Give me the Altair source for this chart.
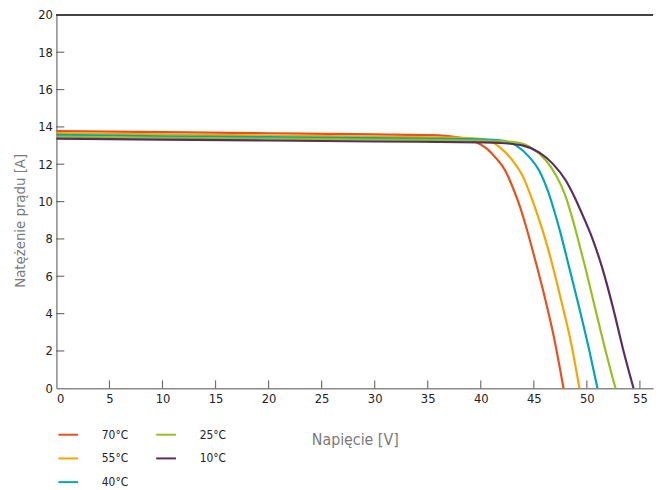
import altair as alt
import pandas as pd

# ---- data ----
series_names = ["70°C", "55°C", "40°C", "25°C", "10°C"]
series_colors = ["#e8501c", "#f7a600", "#00a6b8", "#95c11f", "#5b2c5e"]

v70 = [0, 10, 20, 30, 36, 37.5, 39.3, 40.6, 41.5, 42.3, 43.0, 43.7, 44.3, 45.2, 46.0, 46.8, 47.8]
i70 = [13.78, 13.72, 13.66, 13.6, 13.55, 13.47, 13.25, 12.82, 12.29, 11.67, 10.78, 9.72, 8.6, 6.72, 4.95, 3.0, 0]

v55 = [0, 10, 20, 30, 38, 40.25, 41.8, 43.0, 44.0, 44.75, 45.5, 46.1, 46.8, 47.7, 48.5, 49.3]
i55 = [13.67, 13.6, 13.54, 13.48, 13.42, 13.35, 12.9, 12.2, 11.31, 10.25, 9.02, 7.95, 6.5, 4.42, 2.47, 0]

v40 = [0, 10, 20, 30, 38, 41.8, 43.35, 44.6, 45.5, 46.3, 46.9, 47.5, 48.3, 49.25, 50.2, 51.0]
i40 = [13.57, 13.5, 13.45, 13.4, 13.35, 13.28, 13.0, 12.37, 11.67, 10.61, 9.55, 8.35, 6.55, 4.38, 2.1, 0]

v25 = [0, 10, 20, 30, 40, 43.35, 44.9, 46.15, 47.1, 47.9, 48.5, 49.1, 49.9, 50.8, 51.7, 52.7]
i25 = [13.48, 13.42, 13.37, 13.32, 13.27, 13.17, 12.82, 12.2, 11.4, 10.43, 9.37, 8.13, 6.36, 4.24, 2.15, 0]

v10 = [0, 10, 20, 30, 40, 41.8, 44.0, 45.5, 46.8, 48.0, 48.9, 49.7, 50.4, 51.4, 52.5, 53.4, 54.4]
i10 = [13.37, 13.32, 13.27, 13.22, 13.17, 13.14, 13.0, 12.64, 12.02, 11.14, 10.17, 9.15, 8.2, 6.54, 4.24, 2.12, 0]

x_ticks = [0, 5, 10, 15, 20, 25, 30, 35, 40, 45, 50, 55]
y_ticks = [0, 2, 4, 6, 8, 10, 12, 14, 16, 18, 20]
x_inner_ticks = [5, 10, 15, 20, 25, 30, 35, 40, 45, 50, 55]
y_inner_ticks = [2, 4, 6, 8, 10, 12, 14, 16, 18]

x_title = "Napięcie [V]"
y_title = "Natężenie prądu [A]"

# ---- build table ----
rows = []
for name, vs, is_ in zip(series_names, [v70, v55, v40, v25, v10], [i70, i55, i40, i25, i10]):
    for k, (v, i) in enumerate(zip(vs, is_)):
        rows.append({"series": name, "V": v, "I": i, "order": k})
df = pd.DataFrame(rows)

W, H = 604, 378
FONT = "DejaVu Sans Condensed, Liberation Sans, sans-serif"

xscale = alt.Scale(domain=[0, 56.24], nice=False, zero=False)
yscale = alt.Scale(domain=[0, 20], nice=False)

x_axis = alt.Axis(values=x_ticks, title=x_title, grid=False, ticks=False,
                  domainColor="#8a8a8a", domainWidth=1.5, labelOverlap=False,
                  labelFont=FONT, labelFontSize=13, labelColor="#222",
                  labelPadding=4, titleFont=FONT, titleFontSize=16,
                  titleFontWeight="normal", titleColor="#7a7a7a",
                  titleY=57, titleBaseline="alphabetic")
y_axis = alt.Axis(values=y_ticks, title=y_title, grid=False, ticks=False,
                  domainColor="#8a8a8a", domainWidth=1.5, labelOverlap=False,
                  labelFont=FONT, labelFontSize=13, labelColor="#222",
                  labelPadding=4, titleFont=FONT, titleFontSize=15,
                  titleFontWeight="normal", titleColor="#7a7a7a",
                  titleX=-32, titleY=208, titleBaseline="alphabetic",
                  titleAlign="center")

lines = alt.Chart(df).mark_line(strokeWidth=2.2, interpolate="monotone").encode(
    x=alt.X("V:Q", scale=xscale, axis=x_axis, title=x_title),
    y=alt.Y("I:Q", scale=yscale, axis=y_axis, title=y_title),
    color=alt.Color("series:N", scale=alt.Scale(domain=series_names, range=series_colors),
                    legend=alt.Legend(title=None, orient="none", legendX=1, legendY=414,
                                      columns=2, symbolType="stroke", symbolSize=400,
                                      symbolStrokeWidth=2, labelOffset=23,
                                      columnPadding=24, rowPadding=7,
                                      labelFont=FONT, labelFontSize=12, labelColor="#222")),
    order="order:Q",
)

xt_df = pd.DataFrame({"V": x_inner_ticks})
yt_df = pd.DataFrame({"I": y_inner_ticks})

xticks = alt.Chart(xt_df).mark_tick(orient="vertical", size=8, thickness=1.2, color="#333").encode(
    x=alt.X("V:Q", scale=xscale, axis=x_axis, title=x_title), y=alt.value(H - 4))
yticks = alt.Chart(yt_df).mark_tick(orient="horizontal", size=8, thickness=1.2, color="#333").encode(
    y=alt.Y("I:Q", scale=yscale, axis=y_axis, title=y_title), x=alt.value(4))

top_border = alt.Chart(xt_df).mark_rule(color="#444", strokeWidth=1.5).encode(
    x=alt.value(0), x2=alt.value(W), y=alt.value(0))

chart = alt.layer(lines, xticks, yticks, top_border).properties(
    width=W, height=H,
    autosize=alt.AutoSizeParams(type="none"),
    padding={"left": 49, "top": 4, "right": 5, "bottom": 100},
).configure_view(stroke=None)

chart.save("out.html", embed_options={"renderer": "svg", "actions": False})
